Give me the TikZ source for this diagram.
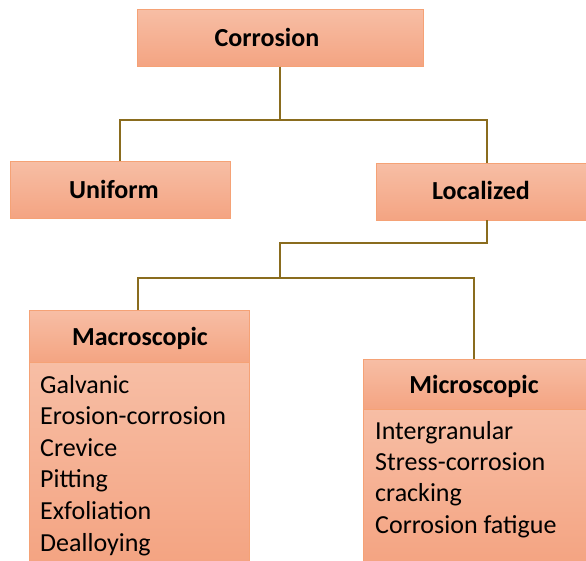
\documentclass[tikz,border=0pt]{standalone}
\usepackage{fontspec}
\setmainfont{Carlito}
\definecolor{boxtop}{HTML}{F7BEA5}
\definecolor{boxbot}{HTML}{F4A482}
\definecolor{boxedge}{HTML}{F5A276}
\definecolor{linkcol}{HTML}{8A6C1E}
\begin{document}
\begin{tikzpicture}[x=1pt,y=-1pt,
  box/.style={rectangle,draw=boxedge,line width=1pt,top color=boxtop,bottom color=boxbot,inner sep=0pt},
  head/.style={anchor=base,inner sep=0pt,font=\fontsize{26}{32}\selectfont\bfseries},
  item/.style={anchor=base west,inner sep=0pt,font=\fontsize{26}{32}\selectfont},
  link/.style={draw=linkcol,line width=2.5pt}]
\useasboundingbox (0,0) rectangle (586,560);
% boxes
\node[box,minimum width=286pt,minimum height=57pt] (corr) at (280,37.5) {};
\node[box,minimum width=220pt,minimum height=57pt] (unif) at (120,189.5) {};
\node[box,minimum width=212pt,minimum height=57pt] (loc) at (482,191.5) {};
\node[box,minimum width=220pt,minimum height=52pt] (machead) at (139,336) {};
\node[box,minimum width=220pt,minimum height=200pt] (maclist) at (139,462) {};
\node[box,minimum width=226pt,minimum height=50pt] (michead) at (476,384) {};
\node[box,minimum width=226pt,minimum height=153pt] (miclist) at (476,485.5) {};
% connector coordinates
\coordinate (j1) at (280,120);
\coordinate (locN) at (487,163);
\coordinate (locS) at (487,220);
\coordinate (j2) at (280,243);
\coordinate (j3) at (280,278);
\coordinate (macN) at (138,310);
\coordinate (micN) at (474,359);
% connectors
\path[link] (corr.south -| j1) -- (j1);
\path[link] (unif.north) |- (j1) -| (locN);
\path[link] (locS) |- (j2) -- (j3);
\path[link] (macN) |- (j3) -| (micN);
% texts
\node[head] (tcorr) at (267,46.4) {Corrosion};
\node[head] (tunif) at (114,198.4) {Uniform};
\node[head] (tloc) at (481,199.4) {Localized};
\node[head] (tmac) at (140,345.4) {Macroscopic};
\node[head] (tmic) at (474,393.4) {Microscopic};
\node[item] (m1) at (40,393) {Galvanic};
\node[item] (m2) at (40,424.6) {Erosion-corrosion};
\node[item] (m3) at (40,456.2) {Crevice};
\node[item] (m4) at (40,487.8) {Pitting};
\node[item] (m5) at (40,519.4) {Exfoliation};
\node[item] (m6) at (40,551) {Dealloying};
\node[item] (s1) at (375,439.4) {Intergranular};
\node[item] (s2) at (375,470.4) {Stress-corrosion};
\node[item] (s3) at (375,501.4) {cracking};
\node[item] (s4) at (375,533.4) {Corrosion fatigue};
\end{tikzpicture}
\end{document}
